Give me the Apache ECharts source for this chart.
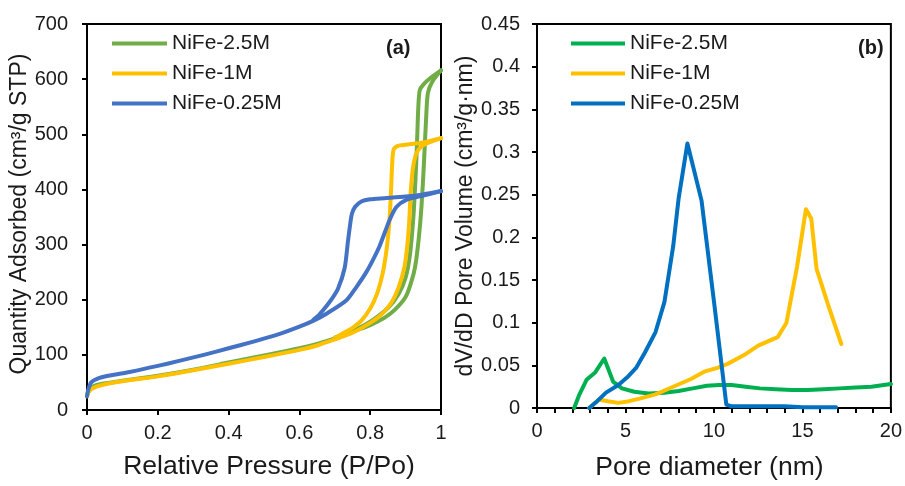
<!DOCTYPE html>
<html>
<head>
<meta charset="utf-8">
<script src="https://cdn.jsdelivr.net/npm/echarts@6/dist/echarts.min.js"></script>
<style>
  html, body { margin: 0; padding: 0; background: #fff; }
  #chart { width: 905px; height: 486px; }
</style>
</head>
<body>
<div id="chart"></div>
<script>
// ---- (a) N2 adsorption / desorption isotherms: [P/Po, quantity adsorbed] ----
const ads25M = [[0,25],[0.004,35],[0.015,42],[0.04,47],[0.1,53],[0.2,62],[0.3,73],[0.4,86],[0.5,99],[0.6,112],[0.65,120],[0.7,130],[0.75,142],[0.8,154],[0.84,167],[0.87,182],[0.9,205],[0.915,230],[0.927,260],[0.937,310],[0.945,370],[0.952,450],[0.958,530],[0.963,575],[0.975,595],[1,616]];
const des25M = [[1,616],[0.97,602],[0.95,590],[0.94,580],[0.936,550],[0.932,480],[0.928,420],[0.922,350],[0.912,280],[0.9,240],[0.88,210],[0.85,185],[0.8,160],[0.75,143],[0.7,131]];
const ads1M = [[0,25],[0.004,32],[0.015,39],[0.04,45],[0.1,52],[0.2,61],[0.3,72],[0.4,84],[0.5,96],[0.6,109],[0.65,117],[0.7,128],[0.75,140],[0.8,158],[0.83,172],[0.86,195],[0.88,222],[0.897,260],[0.905,300],[0.91,340],[0.914,390],[0.92,435],[0.93,465],[0.945,478],[0.97,486],[1,493]];
const des1M = [[1,493],[0.95,485],[0.9,481],[0.878,479],[0.866,472],[0.862,445],[0.859,400],[0.855,350],[0.848,300],[0.836,250],[0.82,212],[0.8,184],[0.775,162],[0.75,149],[0.72,138],[0.7,131]];
const ads025M = [[0,25],[0.004,38],[0.012,50],[0.03,57],[0.06,62],[0.12,69],[0.2,80],[0.26,89],[0.33,100],[0.4,112],[0.47,124],[0.54,137],[0.6,151],[0.64,162],[0.68,176],[0.733,199],[0.76,222],[0.789,250],[0.81,275],[0.827,298],[0.843,325],[0.855,345],[0.874,368],[0.902,381],[0.95,389],[1,397]];
const des025M = [[1,397],[0.95,391],[0.9,387],[0.84,384],[0.8,382],[0.775,378],[0.757,368],[0.748,355],[0.742,330],[0.737,305],[0.728,258],[0.709,220],[0.69,200],[0.676,188],[0.655,172],[0.64,164]];

// ---- (b) pore size distribution: [pore diameter (nm), dV/dD] ----
const psd25M = [[2.1,0],[2.4,0.016],[2.8,0.033],[3.3,0.042],[3.8,0.058],[4.3,0.031],[4.8,0.023],[5.5,0.019],[6.3,0.017],[7.2,0.018],[8.0,0.02],[8.8,0.023],[9.6,0.026],[10.3,0.027],[11.0,0.027],[11.8,0.025],[12.6,0.023],[13.5,0.022],[14.4,0.021],[15.3,0.021],[16.2,0.022],[17.1,0.023],[18.0,0.024],[18.9,0.025],[20.0,0.028]];
const psd1M = [[2.95,0],[3.5,0.01],[4.0,0.008],[4.6,0.006],[5.2,0.008],[5.8,0.011],[6.7,0.016],[7.6,0.024],[8.7,0.034],[9.5,0.043],[10.2,0.047],[10.8,0.052],[11.7,0.062],[12.5,0.073],[13.6,0.083],[14.1,0.1],[14.7,0.166],[15.2,0.233],[15.5,0.222],[15.8,0.163],[16.5,0.118],[17.2,0.075]];
const psd025M = [[2.95,0],[3.4,0.008],[3.9,0.018],[4.6,0.027],[5.1,0.036],[5.6,0.047],[6.1,0.065],[6.7,0.089],[7.2,0.124],[7.7,0.19],[8.0,0.245],[8.5,0.31],[9.3,0.243],[10.0,0.125],[10.7,0.004],[11.0,0.002],[12,0.002],[13,0.002],[14,0.002],[15,0.001],[16,0.001],[16.9,0.001]];

const sampleNames = ['NiFe-2.5M', 'NiFe-1M', 'NiFe-0.25M'];
const colorsA = ['#70AD47', '#FFC000', '#4472C4'];
const colorsB = ['#00B050', '#FFC000', '#0070C0'];
const panelTags = ['(a)', '(b)'];

const FONT = "'Liberation Sans', Arial, Helvetica, sans-serif";
const INK = '#1a1a1a';

function axis(cfg) {
  return Object.assign({
    type: 'value',
    nameLocation: 'middle',
    axisLine: { show: true, onZero: false, lineStyle: { color: '#000', width: 2 } },
    axisTick: { show: true, inside: false, length: 5, lineStyle: { color: '#000', width: 2 } },
    splitLine: { show: false }
  }, cfg);
}

function tickText(margin) {
  return { color: INK, fontSize: 20, fontFamily: FONT, margin: margin };
}

function titleText(size, padding) {
  return { color: INK, fontSize: size, fontFamily: FONT, padding: padding || 0 };
}

function legend(left, width, colors) {
  return {
    orient: 'vertical',
    left: left, top: 33, padding: 0,
    itemWidth: width, itemHeight: 4, itemGap: 9,
    icon: 'rect',
    selectedMode: false,
    textStyle: { color: INK, fontSize: 21, fontFamily: FONT },
    data: sampleNames.map((n, i) => ({
      name: n,
      itemStyle: { color: colors[i], borderWidth: 0, borderColor: colors[i] }
    }))
  };
}

function line(name, data, color, gridIdx, width, smooth) {
  return {
    name: name, type: 'line', data: data,
    xAxisIndex: gridIdx, yAxisIndex: gridIdx,
    showSymbol: false, symbol: 'none', smooth: smooth,
    silent: true, animation: false,
    lineStyle: { color: color, width: width, join: 'round', cap: 'round' },
    itemStyle: { color: color }
  };
}

const isoA = [[ads25M, des25M], [ads1M, des1M], [ads025M, des025M]];
const psdB = [psd25M, psd1M, psd025M];

const series = [];
isoA.forEach((branches, i) => {
  branches.forEach(b => series.push(line(sampleNames[i], b, colorsA[i], 0, 4, 0.25)));
});
psdB.forEach((d, i) => series.push(line(sampleNames[i], d, colorsB[i], 1, 4, false)));

const chart = echarts.init(document.getElementById('chart'), null, { renderer: 'canvas' });
chart.setOption({
  backgroundColor: '#fff',
  animation: false,
  textStyle: { fontFamily: FONT },
  title: [
    { text: panelTags[0], left: 386, top: 38, padding: 0,
      textStyle: { fontSize: 20, fontWeight: 'bold', color: INK, fontFamily: FONT } },
    { text: panelTags[1], left: 858, top: 38, padding: 0,
      textStyle: { fontSize: 20, fontWeight: 'bold', color: INK, fontFamily: FONT } }
  ],
  legend: [legend(112, 55, colorsA), legend(571, 54, colorsB)],
  grid: [
    { left: 87, top: 24, width: 354, height: 386, show: true, borderColor: '#000', borderWidth: 2, backgroundColor: 'transparent' },
    { left: 537, top: 24, width: 357, height: 389, show: true, borderColor: '#000', borderWidth: 2, backgroundColor: 'transparent' }
  ],
  xAxis: [
    axis({ gridIndex: 0, min: 0, max: 1, interval: 0.2,
      name: 'Relative Pressure (P/Po)', nameGap: 43,
      axisLabel: tickText(13),
      nameTextStyle: titleText(26.5, [0, 0, 0, 10]) }),
    axis({ gridIndex: 1, min: 0, max: 20, interval: 5,
      name: 'Pore diameter (nm)', nameGap: 46,
      axisLabel: tickText(13),
      minorTick: { show: true, splitNumber: 5, length: 5, lineStyle: { color: '#000', width: 2 } },
      nameTextStyle: titleText(26.5, [0, 9, 0, 0]) })
  ],
  yAxis: [
    axis({ gridIndex: 0, min: 0, max: 700, interval: 100,
      name: 'Quantity Adsorbed (cm³/g STP)', nameGap: 50,
      axisLabel: tickText(19),
      nameTextStyle: titleText(23, [0, 0, 0, 6]) }),
    axis({ gridIndex: 1, min: 0, max: 0.45, interval: 0.05,
      name: 'dV/dD Pore Volume (cm³/g·nm)', nameGap: 58,
      axisLabel: tickText(17),
      nameTextStyle: titleText(23) })
  ],
  series: series
});
</script>
</body>
</html>
